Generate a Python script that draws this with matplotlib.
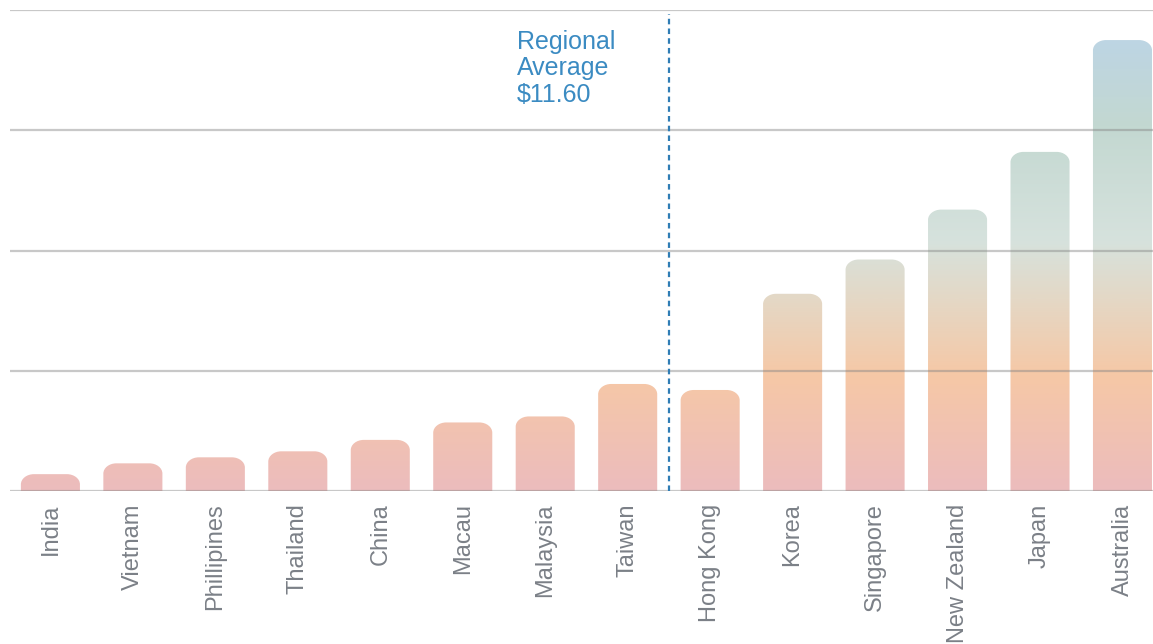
import numpy as np
import matplotlib
matplotlib.use("Agg")
import matplotlib.pyplot as plt
from matplotlib.path import Path
from matplotlib.patches import PathPatch
from matplotlib.colors import LinearSegmentedColormap

# === Data ===
countries = ['India', 'Vietnam', 'Phillipines', 'Thailand', 'China', 'Macau', 'Malaysia',
             'Taiwan', 'Hong Kong', 'Korea', 'Singapore', 'New Zealand', 'Japan', 'Australia']
values = [1.4, 2.3, 2.8, 3.3, 4.25, 5.7, 6.2, 8.9, 8.4, 16.4, 19.25, 23.4, 28.2, 37.5]
avg_label = "Regional\nAverage\n$11.60"
avg_pos = 7.5          # divider between Taiwan and Hong Kong
grid_vals = [0, 10, 20, 30, 40]

# gradient stops along the value axis (shared by every bar)
grad_stops = [(0.0, '#ecbcbd'), (0.24, '#f6c8a6'), (0.40, '#e4d8c6'),
              (0.52, '#d6e2dd'), (0.76, '#c3d8d1'), (1.0, '#bbd4ea')]

plt.rcParams['font.family'] = ['Liberation Sans', 'DejaVu Sans']
plt.rcParams['lines.scale_dashes'] = False

W, H = 1153, 644
fig = plt.figure(figsize=(W / 100, H / 100), dpi=100)
ax = fig.add_axes([10 / W, (H - 491) / H, (W - 10) / W, (491 - 10) / H])

cmap = LinearSegmentedColormap.from_list('bars', grad_stops)
ymax = 40.0
grad = np.linspace(0, 1, 400).reshape(-1, 1)


def rounded_bar(xc, h, w=0.716, rx=0.158, ry=0.85):
    x0, x1 = xc - w / 2, xc + w / 2
    ry = min(ry, h)
    k = 0.5523
    verts = [(x0, 0), (x0, h - ry),
             (x0, h - ry + k * ry), (x0 + rx - k * rx, h), (x0 + rx, h),
             (x1 - rx, h),
             (x1 - rx + k * rx, h), (x1, h - ry + k * ry), (x1, h - ry),
             (x1, 0), (x0, 0)]
    codes = [Path.MOVETO, Path.LINETO,
             Path.CURVE4, Path.CURVE4, Path.CURVE4,
             Path.LINETO,
             Path.CURVE4, Path.CURVE4, Path.CURVE4,
             Path.LINETO, Path.CLOSEPOLY]
    return Path(verts, codes)


for i, v in enumerate(values):
    patch = PathPatch(rounded_bar(i, v), facecolor='none', edgecolor='none')
    ax.add_patch(patch)
    im = ax.imshow(grad, cmap=cmap, origin='lower', aspect='auto',
                   extent=[-0.5, 13.5, 0, ymax], zorder=2, interpolation='bilinear')
    im.set_clip_path(patch)

ax.set_xlim(-0.49, 13.37)
ax.set_ylim(0, 40)

# horizontal guides drawn over the bars
for g in grid_vals:
    ax.axhline(g, color='#858585', alpha=0.45, lw=1.6, zorder=3)

# average divider
ax.plot([avg_pos, avg_pos], [0, 39.65], color='#2f7db5', lw=1.6,
        dashes=(4.0, 3.0), zorder=4)
fig.text(517 / W, 1 - 30 / H, avg_label, color='#3b8bc2', fontsize=18,
         va='top', ha='left', linespacing=1.12)

ax.set_xticks(range(len(countries)))
ax.set_xticklabels(countries, rotation=90, color='#7b8087', fontsize=17)
ax.tick_params(axis='x', length=0, pad=9)
ax.set_yticks([])
for s in ax.spines.values():
    s.set_visible(False)

fig.savefig('out.png', dpi=100)
